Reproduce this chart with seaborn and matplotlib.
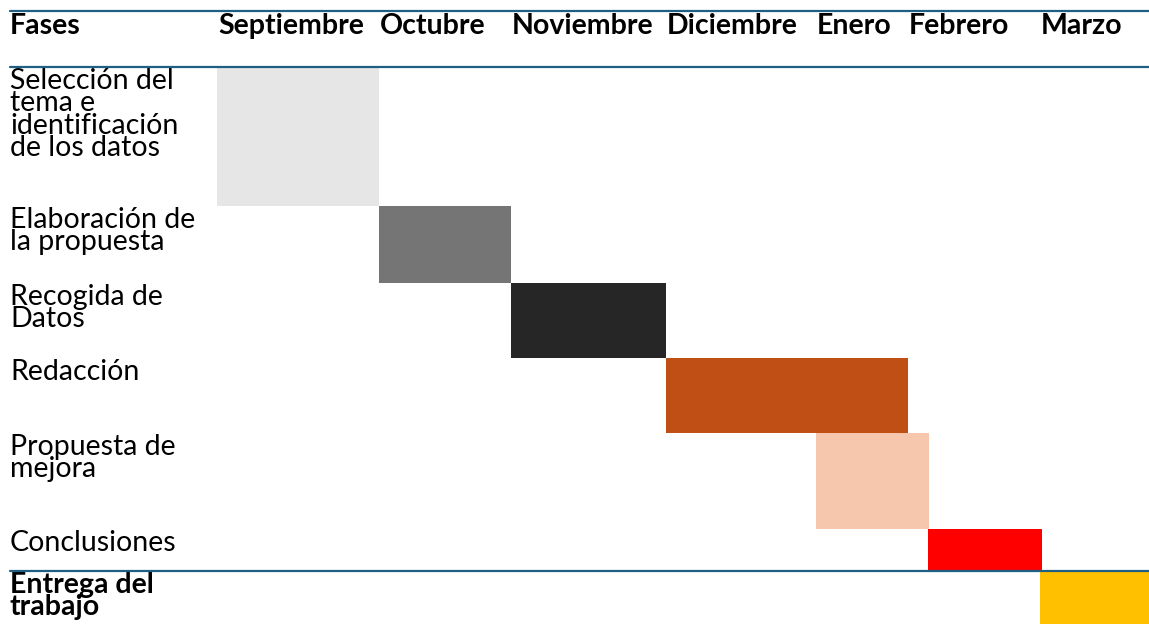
import numpy as np
import matplotlib
matplotlib.use("Agg")
import matplotlib.pyplot as plt
import matplotlib.transforms as mtransforms
from matplotlib.lines import Line2D
import seaborn as sns

# ---------------- data ----------------
phases = [
    "Selección del\ntema e\nidentificación\nde los datos",
    "Elaboración de\nla propuesta",
    "Recogida de\nDatos",
    "Redacción",
    "Propuesta de\nmejora",
    "Conclusiones",
    "Entrega del\ntrabajo",
]
months = ["Septiembre", "Octubre", "Noviembre", "Diciembre", "Enero", "Febrero", "Marzo"]
start_month = [0.0, 1.0, 2.0, 3.0, 4.0, 5.15, 6.0]
end_month = [1.0, 2.0, 3.0, 5.0, 5.16, 6.02, 7.0]
header_first = "Fases"

# ---------------- styles / layout ----------------
bar_colors = ["#E6E6E6", "#757575", "#262626", "#C04F15", "#F6C6AD", "#FF0000", "#FFC000"]
bold_rows = [False, False, False, False, False, False, True]
col_px = [162, 132, 155, 150, 92, 132, 109]      # widths of month columns (px)
row_px = [139, 77, 75, 75, 96, 42, 53]           # heights of phase rows (px)
rule_color = "#1F5F84"
W, H, DPI = 1149, 624, 100
FONT = "Lato"
FS = 20.5
LINESPACING = 0.83
TOP_OFF = 1        # px from row top to top of text

sns.set_theme(style="white")
plt.rcParams["font.family"] = [FONT, "DejaVu Sans"]
plt.rcParams["text.color"] = "black"

fig = plt.figure(figsize=(W / DPI, H / DPI), dpi=DPI)
left_px, top_px = 217, 67
ax = fig.add_axes([left_px / W, 0, (W - left_px) / W, (H - top_px) / H])

# piecewise-linear scales: month index -> column pixels, row index -> row pixels
xb = np.concatenate([[0], np.cumsum(col_px)]).astype(float)
xi = np.arange(len(xb), dtype=float)
yb = np.concatenate([[0], np.cumsum(row_px)]).astype(float)
yi = np.arange(len(yb), dtype=float)
ax.set_xscale("function", functions=(lambda v: np.interp(v, xi, xb), lambda p: np.interp(p, xb, xi)))
ax.set_yscale("function", functions=(lambda v: np.interp(v, yi, yb), lambda p: np.interp(p, yb, yi)))

starts = np.array(start_month)
ends = np.array(end_month)
ax.barh(np.arange(len(phases)) + 0.5, ends - starts, left=starts, height=1.0,
        color=bar_colors, edgecolor="none", linewidth=0)
ax.set_xlim(0, len(months))
ax.set_ylim(len(phases), 0)
ax.axis("off")

# header
hdr_y = 1 - 34 / H
fig.text(10 / W, hdr_y, header_first, fontsize=FS, fontweight="bold", va="baseline", ha="left",
         color="black")
tr_hdr = mtransforms.blended_transform_factory(ax.transData, fig.transFigure)
for i, m in enumerate(months):
    ax.text(i, hdr_y, m, transform=tr_hdr + mtransforms.ScaledTranslation(1 / DPI, 0, fig.dpi_scale_trans),
            fontsize=FS, fontweight="bold", va="baseline", ha="left", color="black")

# row labels
tr_row = mtransforms.blended_transform_factory(fig.transFigure, ax.transData)
for r, lab in enumerate(phases):
    ax.text(10 / W, r, lab,
            transform=tr_row + mtransforms.ScaledTranslation(0, -TOP_OFF / DPI, fig.dpi_scale_trans),
            fontsize=FS, fontweight="bold" if bold_rows[r] else "normal", color="black",
            va="top", ha="left", linespacing=LINESPACING, clip_on=False)

# horizontal rules
for ypx in [11, 67, 570.5]:
    fig.add_artist(Line2D([10 / W, 1], [1 - ypx / H] * 2, transform=fig.transFigure,
                          color=rule_color, lw=1.6, zorder=10))

fig.savefig("out.png", dpi=DPI, facecolor="white")
